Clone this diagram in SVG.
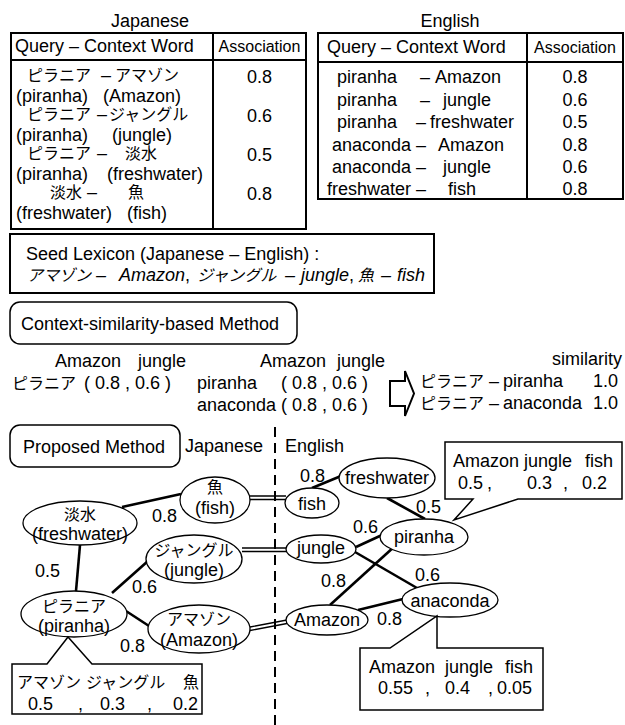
<svg xmlns="http://www.w3.org/2000/svg" width="625" height="725" viewBox="0 0 625 725">
<style>
text { font-family: "Liberation Sans", "Noto Sans CJK JP", Arial, sans-serif; font-size: 18px; fill: #000; }
.j { font-family: "Noto Sans CJK JP", sans-serif; font-size: 16px; }
.s { font-size: 16px; }
.m { text-anchor: middle; }
.it { font-style: italic; }
.up { font-style: normal; }
.tb { fill: none; stroke: #000; stroke-width: 2; }
.ln { stroke: #000; stroke-width: 2; }
.box { fill: #fff; stroke: #000; stroke-width: 1.5; }
.node { fill: #fff; stroke: #000; stroke-width: 1.3; }
.edge { stroke: #000; stroke-width: 2.6; fill: none; }
.dbl { stroke: #000; stroke-width: 1.3; fill: none; }
</style>
<rect width="625" height="725" fill="#fff"/>

<g id="table-japanese">
<text x="150" y="27" class="m">Japanese</text>
<rect x="11" y="33" width="295" height="196" class="tb"/>
<line x1="11" y1="60" x2="306" y2="60" class="ln"/>
<line x1="213" y1="33" x2="213" y2="229" class="ln"/>
<text x="15" y="52">Query –  Context Word</text>
<text x="259.5" y="52" class="m s">Association</text>
<text y="81"><tspan x="27" class="j">ピラニア</tspan><tspan x="101">–</tspan><tspan x="115" class="j">アマゾン</tspan></text>
<text y="101.5"><tspan x="16">(piranha)</tspan><tspan x="103">(Amazon)</tspan></text>
<text y="120"><tspan x="27" class="j">ピラニア</tspan><tspan x="97">–</tspan><tspan x="109" class="j">ジャングル</tspan></text>
<text y="140.5"><tspan x="16">(piranha)</tspan><tspan x="112">(jungle)</tspan></text>
<text y="159"><tspan x="27" class="j">ピラニア</tspan><tspan x="97">–</tspan><tspan x="125" class="j">淡水</tspan></text>
<text y="179.5"><tspan x="16">(piranha)</tspan><tspan x="107">(freshwater)</tspan></text>
<text y="198"><tspan x="50" class="j">淡水</tspan><tspan x="87">–</tspan><tspan x="128" class="j">魚</tspan></text>
<text y="218.5"><tspan x="16">(freshwater)</tspan><tspan x="127">(fish)</tspan></text>
<text x="259.5" y="83" class="m">0.8</text>
<text x="259.5" y="122" class="m">0.6</text>
<text x="259.5" y="161" class="m">0.5</text>
<text x="259.5" y="200" class="m">0.8</text>
</g>

<g id="table-english">
<text x="450" y="27" class="m">English</text>
<rect x="318" y="33" width="305" height="166" class="tb"/>
<line x1="318" y1="62" x2="623" y2="62" class="ln"/>
<line x1="527" y1="33" x2="527" y2="199" class="ln"/>
<text x="327" y="53">Query – Context Word</text>
<text x="575" y="53" class="m s">Association</text>
<text y="83"><tspan x="337">piranha</tspan><tspan x="420">–</tspan><tspan x="435">Amazon</tspan></text>
<text y="106"><tspan x="337">piranha</tspan><tspan x="420">–</tspan><tspan x="443">jungle</tspan></text>
<text y="128"><tspan x="337">piranha</tspan><tspan x="416">–</tspan><tspan x="430">freshwater</tspan></text>
<text y="151"><tspan x="332">anaconda</tspan><tspan x="416">–</tspan><tspan x="438">Amazon</tspan></text>
<text y="173"><tspan x="332">anaconda</tspan><tspan x="416">–</tspan><tspan x="443">jungle</tspan></text>
<text y="195"><tspan x="327">freshwater</tspan><tspan x="416">–</tspan><tspan x="448">fish</tspan></text>
<text x="575" y="83" class="m">0.8</text>
<text x="575" y="106" class="m">0.6</text>
<text x="575" y="128" class="m">0.5</text>
<text x="575" y="151" class="m">0.8</text>
<text x="575" y="173" class="m">0.6</text>
<text x="575" y="195" class="m">0.8</text>
</g>

<g id="seed-lexicon">
<rect x="10" y="234" width="424" height="59" class="tb"/>
<text x="26" y="260">Seed Lexicon (Japanese – English) :</text>
<text y="281" class="it"><tspan x="27" class="j">アマゾン</tspan><tspan x="96">–</tspan><tspan x="119">Amazon</tspan><tspan class="up">,</tspan><tspan x="197" class="j">ジャングル</tspan><tspan x="285">–</tspan><tspan x="301">jungle</tspan><tspan class="up">,</tspan><tspan x="358" class="j">魚</tspan><tspan x="381">–</tspan><tspan x="397">fish</tspan></text>
</g>

<g id="context-method">
<rect x="10" y="302" width="287" height="42" rx="10" class="box"/>
<text x="21" y="330">Context-similarity-based Method</text>
<text y="367"><tspan x="55">Amazon</tspan><tspan x="138">jungle</tspan></text>
<text y="389"><tspan x="12" class="j">ピラニア</tspan><tspan x="84">( 0.8 , 0.6 )</tspan></text>
<text y="367"><tspan x="260">Amazon</tspan><tspan x="337">jungle</tspan></text>
<text y="389"><tspan x="197">piranha</tspan><tspan x="281">( 0.8 , 0.6 )</tspan></text>
<text y="411"><tspan x="197">anaconda</tspan><tspan x="281">( 0.8 , 0.6 )</tspan></text>
<path d="M390,381 H405 V371 L414,393.5 L405,416 V406 H390 Z" fill="#fff" stroke="#000" stroke-width="2" stroke-linejoin="miter"/>
<text x="622" y="365" text-anchor="end">similarity</text>
<text y="387"><tspan x="420" class="j">ピラニア</tspan><tspan x="489">–</tspan><tspan x="503">piranha</tspan><tspan x="593">1.0</tspan></text>
<text y="409"><tspan x="420" class="j">ピラニア</tspan><tspan x="489">–</tspan><tspan x="503">anaconda</tspan><tspan x="593">1.0</tspan></text>
</g>

<g id="proposed-method">
<rect x="10" y="425" width="170" height="42" rx="10" class="box"/>
<text x="23" y="453">Proposed Method</text>
<text x="185" y="452">Japanese</text>
<text x="285" y="452">English</text>
<line x1="275" y1="427" x2="275" y2="725" stroke="#000" stroke-width="2" stroke-dasharray="10 6"/>
</g>

<g id="connectors">
<line x1="122" y1="507" x2="181" y2="494" class="edge"/>
<line x1="80" y1="545" x2="76" y2="591" class="edge"/>
<line x1="112" y1="593" x2="148" y2="561" class="edge"/>
<line x1="126" y1="611" x2="149" y2="626" class="edge"/>
<path d="M250,496 H286 M250,499.5 H286" class="dbl"/>
<path d="M242,548 H287 M242,551.5 H287" class="dbl"/>
<path d="M250,627 L287,620 M250,630.5 L287,623.5" class="dbl"/>
<line x1="312" y1="488" x2="341" y2="476" class="edge"/>
<line x1="387" y1="498" x2="425" y2="519" class="edge"/>
<line x1="356" y1="547" x2="382" y2="535" class="edge"/>
<line x1="355" y1="552" x2="417" y2="588" class="edge"/>
<line x1="330" y1="605" x2="395" y2="546" class="edge"/>
<line x1="358" y1="610" x2="403" y2="599" class="edge"/>
<text x="152" y="522">0.8</text>
<text x="35" y="577">0.5</text>
<text x="132" y="593">0.6</text>
<text x="120" y="652">0.8</text>
<text x="300" y="482">0.8</text>
<text x="416" y="513">0.5</text>
<text x="353" y="533">0.6</text>
<text x="321" y="587">0.8</text>
<text x="415" y="581">0.6</text>
<text x="377" y="625">0.8</text>
</g>

<g id="node-fish-ja">
<ellipse cx="215" cy="500" rx="35" ry="23" class="node"/>
<text x="215" y="493" class="m j">魚</text>
<text x="215" y="514" class="m">(fish)</text>
</g>
<g id="node-freshwater-ja">
<ellipse cx="80" cy="523" rx="57" ry="22" class="node"/>
<text x="80" y="520" class="m j">淡水</text>
<text x="80" y="540" class="m">(freshwater)</text>
</g>
<g id="node-jungle-ja">
<ellipse cx="194" cy="559" rx="48" ry="24" class="node"/>
<text x="194" y="556" class="m j">ジャングル</text>
<text x="194" y="576" class="m">(jungle)</text>
</g>
<g id="node-piranha-ja">
<ellipse cx="74" cy="614" rx="53" ry="23" class="node"/>
<text x="74" y="612" class="m j">ピラニア</text>
<text x="74" y="632" class="m">(piranha)</text>
</g>
<g id="node-amazon-ja">
<ellipse cx="199" cy="629" rx="51" ry="24" class="node"/>
<text x="199" y="625" class="m j">アマゾン</text>
<text x="199" y="646" class="m">(Amazon)</text>
</g>

<g id="node-fish-en">
<ellipse cx="312" cy="503" rx="27" ry="15" class="node"/>
<text x="312" y="510" class="m">fish</text>
</g>
<g id="node-freshwater-en">
<ellipse cx="387" cy="478" rx="48" ry="20" class="node"/>
<text x="387" y="484" class="m">freshwater</text>
</g>
<g id="node-piranha-en">
<ellipse cx="424" cy="537" rx="44" ry="18" class="node"/>
<text x="424" y="543" class="m">piranha</text>
</g>
<g id="node-jungle-en">
<ellipse cx="321" cy="549" rx="35" ry="14" class="node"/>
<text x="321" y="554" class="m">jungle</text>
</g>
<g id="node-amazon-en">
<ellipse cx="327" cy="620" rx="41" ry="15" class="node"/>
<text x="327" y="626" class="m">Amazon</text>
</g>
<g id="node-anaconda-en">
<ellipse cx="450" cy="600" rx="48" ry="17" class="node"/>
<text x="450" y="607" class="m">anaconda</text>
</g>

<g id="callout-piranha-en">
<path d="M445,442 H622 V499 H518 L454,520 L473,499 H445 Z" class="box"/>
<text y="467"><tspan x="453">Amazon</tspan><tspan x="524">jungle</tspan><tspan x="585">fish</tspan></text>
<text y="489"><tspan x="458">0.5</tspan><tspan x="487">,</tspan><tspan x="527">0.3</tspan><tspan x="563">,</tspan><tspan x="582">0.2</tspan></text>
</g>
<g id="callout-anaconda-en">
<path d="M360,648 H390 L437,616 V648 H543 V710 H360 Z" class="box"/>
<text y="673"><tspan x="369">Amazon</tspan><tspan x="445">jungle</tspan><tspan x="505">fish</tspan></text>
<text y="694"><tspan x="378">0.55</tspan><tspan x="425">,</tspan><tspan x="445">0.4</tspan><tspan x="488">,</tspan><tspan x="497">0.05</tspan></text>
</g>
<g id="callout-piranha-ja">
<path d="M12,664 H47 L68,637 L92,664 H202 V714 H12 Z" class="box"/>
<text y="688"><tspan x="17" class="j">アマゾン</tspan><tspan x="86" class="j">ジャングル</tspan><tspan x="183" class="j">魚</tspan></text>
<text y="709.5"><tspan x="28">0.5</tspan><tspan x="78">,</tspan><tspan x="100">0.3</tspan><tspan x="147">,</tspan><tspan x="173">0.2</tspan></text>
</g>
</svg>
